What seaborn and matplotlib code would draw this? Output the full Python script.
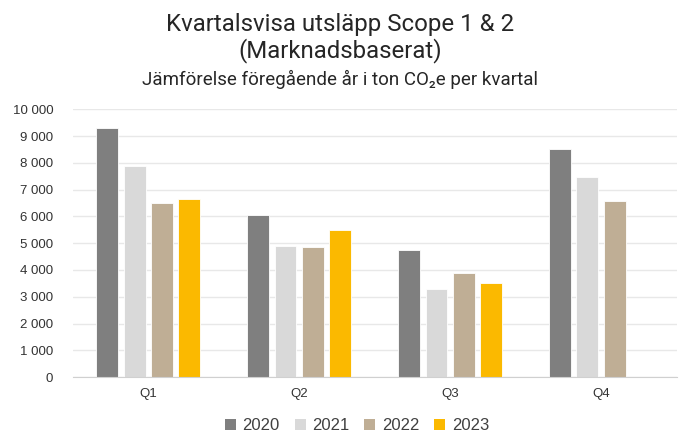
import pandas as pd
import seaborn as sb
import matplotlib.pyplot as plt
from matplotlib.ticker import FuncFormatter, MultipleLocator
from matplotlib.patches import Patch

# data (ton CO2e)
quarters = ['Q1', 'Q2', 'Q3', 'Q4']
years = ['2020', '2021', '2022', '2023']
v2020 = [9320, 6050, 4750, 8510]
v2021 = [7870, 4900, 3300, 7460]
v2022 = [6490, 4850, 3900, 6590]
v2023 = [6650, 5500, 3510, None]
colors = ['#7f7f7f', '#d9d9d9', '#bfae95', '#fbb900']

rows = []
for year, vals in zip(years, [v2020, v2021, v2022, v2023]):
    for q, v in zip(quarters, vals):
        if v is not None:
            rows.append([q, year, v])
df = pd.DataFrame(rows, columns=['Quarter', 'Year', 'Value'])

sb.set_style('white')
plt.rcParams['font.family'] = ['Liberation Sans', 'DejaVu Sans']

fig = plt.figure(figsize=(6.8, 4.32), dpi=100)
ax = fig.add_axes([0.107, 0.127, 0.888, 0.62])

sb.barplot(data=df, x='Quarter', y='Value', hue='Year', order=quarters, hue_order=years,
           palette=colors, width=0.726, gap=0.2, ax=ax, legend=False,
           edgecolor='white', linewidth=0.6, saturation=1)

ax.set_ylim(0, 10000)
ax.yaxis.set_major_locator(MultipleLocator(1000))
ax.yaxis.set_major_formatter(FuncFormatter(lambda v, p: f'{int(v):,}'.replace(',', ' ')))
ax.grid(axis='y', color='#e8e8e8', linewidth=1)
ax.set_axisbelow(True)
for s in ['top', 'right', 'left']:
    ax.spines[s].set_visible(False)
ax.spines['bottom'].set_color('#d0d0d0')
ax.tick_params(axis='both', length=0, colors='#333333', labelsize=9.5)
ax.tick_params(axis='x', pad=8)
ax.tick_params(axis='y', pad=14)
ax.set_xlabel('')
ax.set_ylabel('')

title_font = ['Roboto', 'DejaVu Sans']
fig.text(0.5, 0.944, 'Kvartalsvisa utsläpp Scope 1 & 2', ha='center', va='center',
         fontsize=17.3, color='#262626', family=title_font)
fig.text(0.5, 0.884, '(Marknadsbaserat)', ha='center', va='center',
         fontsize=17.3, color='#262626', family=title_font)
fig.text(0.5, 0.815, 'Jämförelse föregående år i ton CO₂e per kvartal', ha='center', va='center',
         fontsize=13.5, color='#262626', family=title_font)

handles = [Patch(facecolor=c, edgecolor='none') for c in colors]
fig.legend(handles, years, loc='center', bbox_to_anchor=(0.525, 0.015), ncol=4, frameon=False,
           fontsize=12, handlelength=0.65, handleheight=0.65, handletextpad=0.4, columnspacing=0.9,
           labelcolor='#404040')

fig.savefig('out.png', dpi=100)
